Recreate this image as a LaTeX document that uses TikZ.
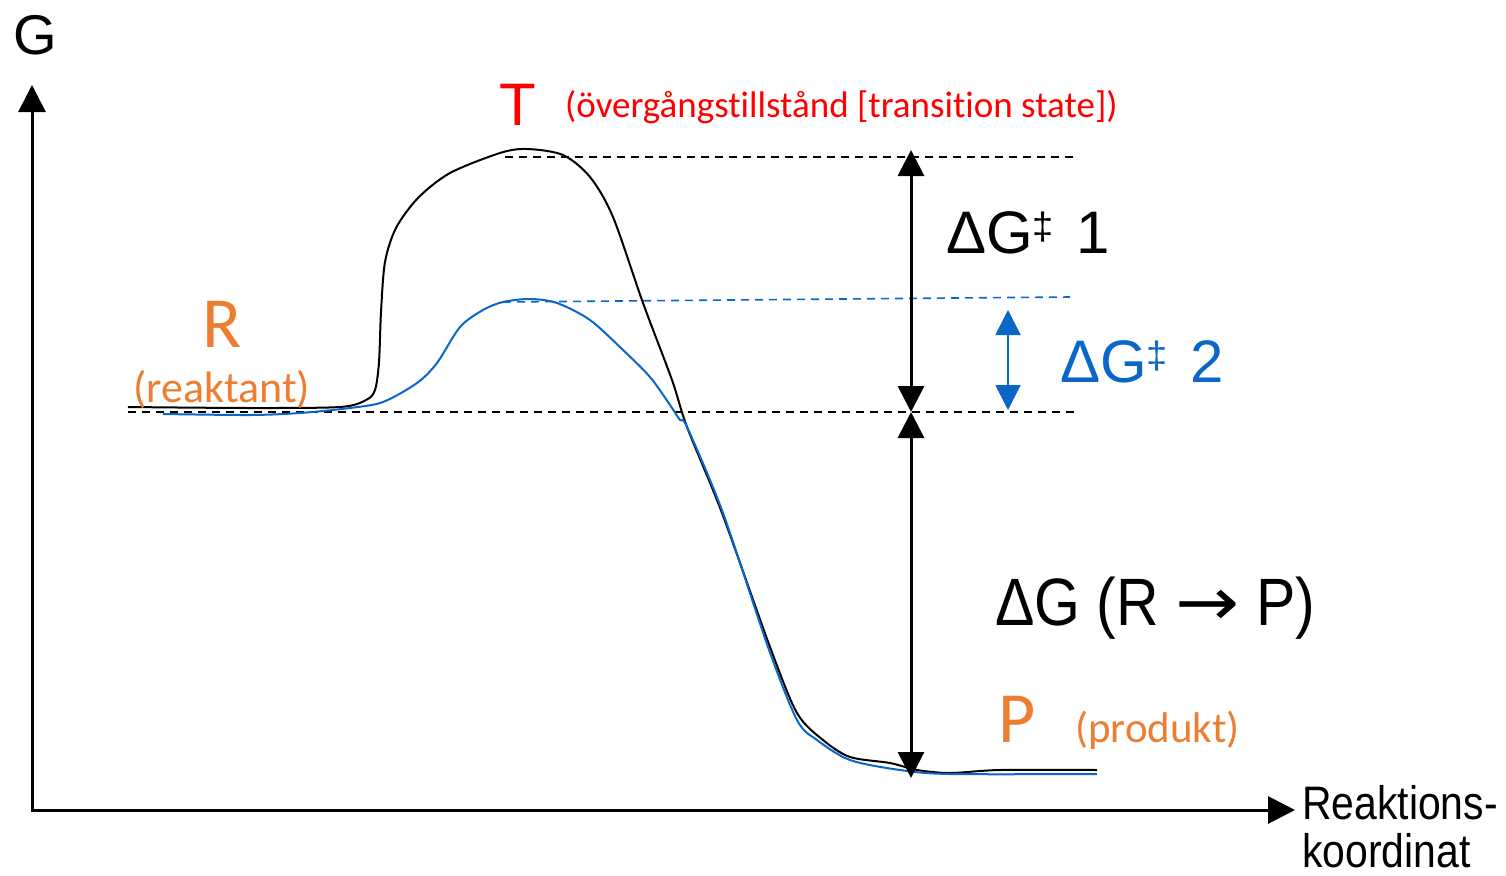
\documentclass[tikz,border=0pt]{standalone}
\usepackage{fontspec}
\usepackage{graphicx}
\setmainfont{Liberation Sans}
\newfontfamily\calfont[Ligatures={NoCommon}]{Carlito}
\newfontfamily\arrfont{DejaVu Sans}
\usetikzlibrary{arrows.meta}
\definecolor{enOrange}{HTML}{ED7D31}
\definecolor{enBlue}{HTML}{0A66C8}
\definecolor{enRed}{HTML}{FF0000}
\newcommand\fsz[1]{\fontsize{#1}{#1}\selectfont}
\newcommand\tsdag[1]{\raisebox{#1}{\fsz{38}‡}}

\begin{document}
\begin{tikzpicture}[x=1pt,y=-1pt,
    axis/.style={line width=3pt,{Triangle[length=27pt,width=27pt]}-{Triangle[length=27pt,width=27pt]}},
    level/.style={line width=2pt,dash pattern=on 8pt off 6pt},
    gap/.style={line width=3pt,{Triangle[length=26pt,width=26pt]}-{Triangle[length=26pt,width=26pt]}},
    curve/.style={line width=2pt,line join=round},
    lbl/.style={inner sep=0pt,anchor=base west}]
  \useasboundingbox (0,0) rectangle (1506,875);

  % axes
  \coordinate (ytop) at (32,85);
  \coordinate (orig) at (32,810);
  \coordinate (xend) at (1295,810);
  \draw[axis,line join=miter] (ytop) -- (orig) -- (xend);
  \node[lbl,font=\fsz{56}] (glab) at (13,55) {G};
  \node[lbl,font=\fsz{47}] (xlab1) at (1302,819) {\scalebox{0.87}[1]{Reaktions-}};
  \node[lbl,font=\fsz{47}] (xlab2) at (1302,867) {\scalebox{0.87}[1]{koordinat}};

  % levels
  \coordinate (tl) at (505,157);
  \coordinate (tr) at (1075,157);
  \coordinate (rl) at (128,412);
  \coordinate (rr) at (1075,412);
  \coordinate (bl) at (503,302);
  \coordinate (br) at (1070,297);
  \draw[level] (tl) -- (tr);
  \draw[level] (rl) -- (rr);
  \draw[level,enBlue,line width=1.6pt] (bl) -- (br);

  % reaction paths
  \draw[curve] plot[smooth,tension=0.5] coordinates {(128,407) (250,408) (340,407)
    (366,400) (375,390) (379,362) (381,312) (385,262) (396,228) (418,198) (450,173)
    (500,153) (527,149) (563,155) (590,177) (613,217) (643,303) (672,380) (687,427)
    (722,513) (770,647) (797,713) (823,740) (850,757) (890,763) (917,770) (950,773)
    (1000,770) (1097,770)};
  \draw[curve,enBlue] plot[smooth,tension=0.5] coordinates {(163,414) (250,415)
    (300,413) (350,408) (383,402) (417,383) (437,363) (460,327) (483,310) (503,302)
    (530,299) (557,303) (590,320) (623,350) (650,377) (670,405) (680,420) (687,427)
    (723,513) (768,647) (797,720) (817,740) (850,760) (900,770) (950,774) (1097,774)};

  % energy differences
  \coordinate (ttip) at (911,150);
  \coordinate (rtip) at (911,412);
  \coordinate (ptip) at (911,778);
  \coordinate (b2top) at (1008,310);
  \coordinate (b2bot) at (1008,410);
  \draw[gap] (ttip) -- (rtip);
  \draw[gap] (rtip) -- (ptip);
  \draw[gap,enBlue,line width=2pt,{Triangle[length=25pt,width=25pt]}-{Triangle[length=25pt,width=25pt]}] (b2top) -- (b2bot);

  % labels
  \node[lbl,font=\fsz{60},enRed] (tlab) at (499,125) {T};
  \node[lbl,font=\calfont\fsz{37},enRed] (tnote) at (565,117) {(övergångstillstånd [transition state])};
  \node[lbl,font=\calfont\fsz{72},enOrange] (rlab) at (202,347) {R};
  \node[lbl,font=\calfont\fsz{44},enOrange] (rnote) at (133,402) {(reaktant)};
  \node[lbl,font=\calfont\fsz{72},enOrange] (plab) at (998,742) {P};
  \node[lbl,font=\calfont\fsz{43},enOrange] (pnote) at (1075,742) {(produkt)};
  \node[lbl,font=\fsz{60}] (dg1) at (946,253) {ΔG\tsdag{14pt}\hspace{22pt}1};
  \node[lbl,font=\fsz{60},enBlue] (dg2) at (1060,382) {ΔG\tsdag{14pt}\hspace{22pt}2};
  \node[lbl,font=\fsz{67}] (dgr) at (995,625) {\scalebox{0.88}[1]{ΔG (R \scalebox{1.3}[1]{\arrfont →} P)}};
\end{tikzpicture}
\end{document}
